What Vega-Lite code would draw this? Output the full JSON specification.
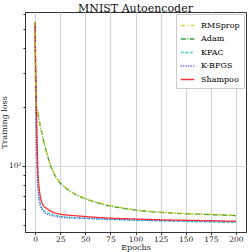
{
  "$schema": "https://vega.github.io/schema/vega-lite/v6.json",
  "autosize": "none",
  "width": 221,
  "height": 220,
  "padding": {"left": 25, "top": 12, "right": 3, "bottom": 20},
  "background": "white",
  "config": {
    "font": "DejaVu Serif",
    "view": {"stroke": "#333333", "strokeWidth": 1},
    "axis": {"labelFont": "DejaVu Serif", "titleFont": "DejaVu Serif", "titleFontWeight": "normal", "labelColor": "#222", "titleColor": "#222", "domainColor": "#333333", "tickColor": "#333333"}
  },
  "title": {"text": "MNIST Autoencoder", "font": "DejaVu Serif", "fontSize": 11, "fontWeight": "normal", "color": "#111", "offset": -2, "anchor": "middle"},
  "data": {"values": [
    {"opt": "Adam", "epoch": 0, "loss": 540},
    {"opt": "Adam", "epoch": 1, "loss": 205},
    {"opt": "Adam", "epoch": 2, "loss": 193},
    {"opt": "Adam", "epoch": 3.5, "loss": 178},
    {"opt": "Adam", "epoch": 5, "loss": 161},
    {"opt": "Adam", "epoch": 7, "loss": 145},
    {"opt": "Adam", "epoch": 9, "loss": 131},
    {"opt": "Adam", "epoch": 11, "loss": 120},
    {"opt": "Adam", "epoch": 13, "loss": 110},
    {"opt": "Adam", "epoch": 15.5, "loss": 100.5},
    {"opt": "Adam", "epoch": 18, "loss": 93.5},
    {"opt": "Adam", "epoch": 21, "loss": 87.5},
    {"opt": "Adam", "epoch": 24, "loss": 83},
    {"opt": "Adam", "epoch": 30, "loss": 77.6},
    {"opt": "Adam", "epoch": 35, "loss": 74.2},
    {"opt": "Adam", "epoch": 40, "loss": 71.7},
    {"opt": "Adam", "epoch": 45, "loss": 69.7},
    {"opt": "Adam", "epoch": 50, "loss": 68.0},
    {"opt": "Adam", "epoch": 60, "loss": 65.3},
    {"opt": "Adam", "epoch": 70, "loss": 63.2},
    {"opt": "Adam", "epoch": 80, "loss": 61.7},
    {"opt": "Adam", "epoch": 90, "loss": 60.5},
    {"opt": "Adam", "epoch": 100, "loss": 59.5},
    {"opt": "Adam", "epoch": 112, "loss": 58.6},
    {"opt": "Adam", "epoch": 125, "loss": 57.9},
    {"opt": "Adam", "epoch": 137, "loss": 57.4},
    {"opt": "Adam", "epoch": 150, "loss": 57.0},
    {"opt": "Adam", "epoch": 162, "loss": 56.7},
    {"opt": "Adam", "epoch": 175, "loss": 56.4},
    {"opt": "Adam", "epoch": 187, "loss": 56.1},
    {"opt": "Adam", "epoch": 200, "loss": 55.8},
    {"opt": "RMSprop", "epoch": 0, "loss": 545},
    {"opt": "RMSprop", "epoch": 1, "loss": 207},
    {"opt": "RMSprop", "epoch": 2, "loss": 195},
    {"opt": "RMSprop", "epoch": 3.5, "loss": 180},
    {"opt": "RMSprop", "epoch": 5, "loss": 163},
    {"opt": "RMSprop", "epoch": 7, "loss": 146},
    {"opt": "RMSprop", "epoch": 9, "loss": 132},
    {"opt": "RMSprop", "epoch": 11, "loss": 121},
    {"opt": "RMSprop", "epoch": 13, "loss": 111},
    {"opt": "RMSprop", "epoch": 15.5, "loss": 101},
    {"opt": "RMSprop", "epoch": 18, "loss": 94},
    {"opt": "RMSprop", "epoch": 21, "loss": 88},
    {"opt": "RMSprop", "epoch": 24, "loss": 83.5},
    {"opt": "RMSprop", "epoch": 30, "loss": 78},
    {"opt": "RMSprop", "epoch": 35, "loss": 74.6},
    {"opt": "RMSprop", "epoch": 40, "loss": 72},
    {"opt": "RMSprop", "epoch": 45, "loss": 70},
    {"opt": "RMSprop", "epoch": 50, "loss": 68.3},
    {"opt": "RMSprop", "epoch": 60, "loss": 65.6},
    {"opt": "RMSprop", "epoch": 70, "loss": 63.5},
    {"opt": "RMSprop", "epoch": 80, "loss": 62},
    {"opt": "RMSprop", "epoch": 90, "loss": 60.8},
    {"opt": "RMSprop", "epoch": 100, "loss": 59.7},
    {"opt": "RMSprop", "epoch": 112, "loss": 58.8},
    {"opt": "RMSprop", "epoch": 125, "loss": 58.1},
    {"opt": "RMSprop", "epoch": 137, "loss": 57.6},
    {"opt": "RMSprop", "epoch": 150, "loss": 57.2},
    {"opt": "RMSprop", "epoch": 162, "loss": 56.9},
    {"opt": "RMSprop", "epoch": 175, "loss": 56.6},
    {"opt": "RMSprop", "epoch": 187, "loss": 56.3},
    {"opt": "RMSprop", "epoch": 200, "loss": 56.0},
    {"opt": "KFAC", "epoch": 0, "loss": 543},
    {"opt": "KFAC", "epoch": 1, "loss": 200},
    {"opt": "KFAC", "epoch": 2, "loss": 110},
    {"opt": "KFAC", "epoch": 3, "loss": 80},
    {"opt": "KFAC", "epoch": 4, "loss": 70},
    {"opt": "KFAC", "epoch": 5, "loss": 65},
    {"opt": "KFAC", "epoch": 7, "loss": 61},
    {"opt": "KFAC", "epoch": 10, "loss": 58.5},
    {"opt": "KFAC", "epoch": 15, "loss": 57},
    {"opt": "KFAC", "epoch": 20, "loss": 56},
    {"opt": "KFAC", "epoch": 30, "loss": 55},
    {"opt": "KFAC", "epoch": 50, "loss": 54},
    {"opt": "KFAC", "epoch": 75, "loss": 53.3},
    {"opt": "KFAC", "epoch": 100, "loss": 52.8},
    {"opt": "KFAC", "epoch": 150, "loss": 52.0},
    {"opt": "KFAC", "epoch": 200, "loss": 51.4},
    {"opt": "K-BFGS", "epoch": 0, "loss": 543},
    {"opt": "K-BFGS", "epoch": 1, "loss": 170},
    {"opt": "K-BFGS", "epoch": 2, "loss": 95},
    {"opt": "K-BFGS", "epoch": 3, "loss": 75},
    {"opt": "K-BFGS", "epoch": 4, "loss": 67},
    {"opt": "K-BFGS", "epoch": 5, "loss": 63},
    {"opt": "K-BFGS", "epoch": 7, "loss": 60},
    {"opt": "K-BFGS", "epoch": 10, "loss": 57.5},
    {"opt": "K-BFGS", "epoch": 15, "loss": 56},
    {"opt": "K-BFGS", "epoch": 20, "loss": 55.3},
    {"opt": "K-BFGS", "epoch": 30, "loss": 54.5},
    {"opt": "K-BFGS", "epoch": 50, "loss": 54},
    {"opt": "K-BFGS", "epoch": 75, "loss": 53.5},
    {"opt": "K-BFGS", "epoch": 100, "loss": 53},
    {"opt": "K-BFGS", "epoch": 150, "loss": 52.4},
    {"opt": "K-BFGS", "epoch": 200, "loss": 51.9},
    {"opt": "Shampoo", "epoch": 0, "loss": 543},
    {"opt": "Shampoo", "epoch": 1, "loss": 250},
    {"opt": "Shampoo", "epoch": 2, "loss": 140},
    {"opt": "Shampoo", "epoch": 3, "loss": 90},
    {"opt": "Shampoo", "epoch": 4, "loss": 78},
    {"opt": "Shampoo", "epoch": 6, "loss": 67},
    {"opt": "Shampoo", "epoch": 8, "loss": 63},
    {"opt": "Shampoo", "epoch": 11, "loss": 61},
    {"opt": "Shampoo", "epoch": 15, "loss": 59},
    {"opt": "Shampoo", "epoch": 21, "loss": 57.3},
    {"opt": "Shampoo", "epoch": 30, "loss": 56.3},
    {"opt": "Shampoo", "epoch": 40, "loss": 55.7},
    {"opt": "Shampoo", "epoch": 60, "loss": 54.7},
    {"opt": "Shampoo", "epoch": 80, "loss": 54.0},
    {"opt": "Shampoo", "epoch": 100, "loss": 53.6},
    {"opt": "Shampoo", "epoch": 125, "loss": 53.1},
    {"opt": "Shampoo", "epoch": 150, "loss": 52.8},
    {"opt": "Shampoo", "epoch": 175, "loss": 52.5},
    {"opt": "Shampoo", "epoch": 200, "loss": 52.2}
  ]},
  "encoding": {
    "x": {"field": "epoch", "type": "quantitative", "scale": {"domain": [-10, 210], "nice": false, "zero": false},
      "axis": {"title": "Epochs", "values": [0, 25, 50, 75, 100, 125, 150, 175, 200], "labelFontSize": 7.5, "titleFontSize": 8, "titlePadding": 0, "labelPadding": 1, "tickSize": 2.5, "grid": true, "gridColor": "#d4d4d4", "gridWidth": 1.2, "labelFlush": false}},
    "y": {"field": "loss", "type": "quantitative", "scale": {"type": "log", "domain": [46, 611], "nice": false},
      "axis": {"title": "Training loss", "values": [50, 60, 70, 80, 90, 100, 200, 300, 400, 500, 600], "labelExpr": "datum.value == 100 ? '10²' : ''", "labelFontSize": 7.5, "titleFontSize": 8, "titlePadding": 0, "labelPadding": 1,
        "tickSize": {"condition": {"test": "datum.value == 100", "value": 3}, "value": 2},
        "grid": true, "gridColor": "#d4d4d4", "gridWidth": 1.2,
        "gridOpacity": {"condition": {"test": "datum.value == 100", "value": 1}, "value": 0}}},
    "color": {"field": "opt", "type": "nominal", "sort": ["RMSprop", "Adam", "KFAC", "K-BFGS", "Shampoo"],
      "scale": {"domain": ["RMSprop", "Adam", "KFAC", "K-BFGS", "Shampoo"], "range": ["#c8cc10", "#109010", "#20c8c8", "#2020ff", "#ff1010"]},
      "legend": {"title": null, "orient": "top-right", "offset": 2, "symbolType": "stroke", "symbolSize": 180, "symbolStrokeWidth": 1.5, "symbolOpacity": 0.6, "labelFont": "DejaVu Serif", "labelFontSize": 8, "rowPadding": 1.5, "padding": 4, "strokeColor": "#cccccc", "fillColor": "white", "labelOffset": 6}},
    "strokeDash": {"field": "opt", "type": "nominal", "sort": ["RMSprop", "Adam", "KFAC", "K-BFGS", "Shampoo"],
      "scale": {"domain": ["RMSprop", "Adam", "KFAC", "K-BFGS", "Shampoo"], "range": [[4, 2.5, 1, 2.5], [5, 1.5, 1, 1.5], [3, 1.5], [1, 1.5], [1, 0]]}},
    "order": {"field": "epoch"}
  },
  "layer": [
    {"transform": [{"filter": "datum.opt != 'RMSprop'"}],
     "mark": {"type": "line", "strokeWidth": 1.3, "opacity": 0.85, "interpolate": "monotone", "clip": true}},
    {"transform": [{"filter": "datum.opt == 'RMSprop'"}],
     "mark": {"type": "line", "strokeWidth": 1.4, "opacity": 0.85, "interpolate": "monotone", "clip": true}}
  ]
}
